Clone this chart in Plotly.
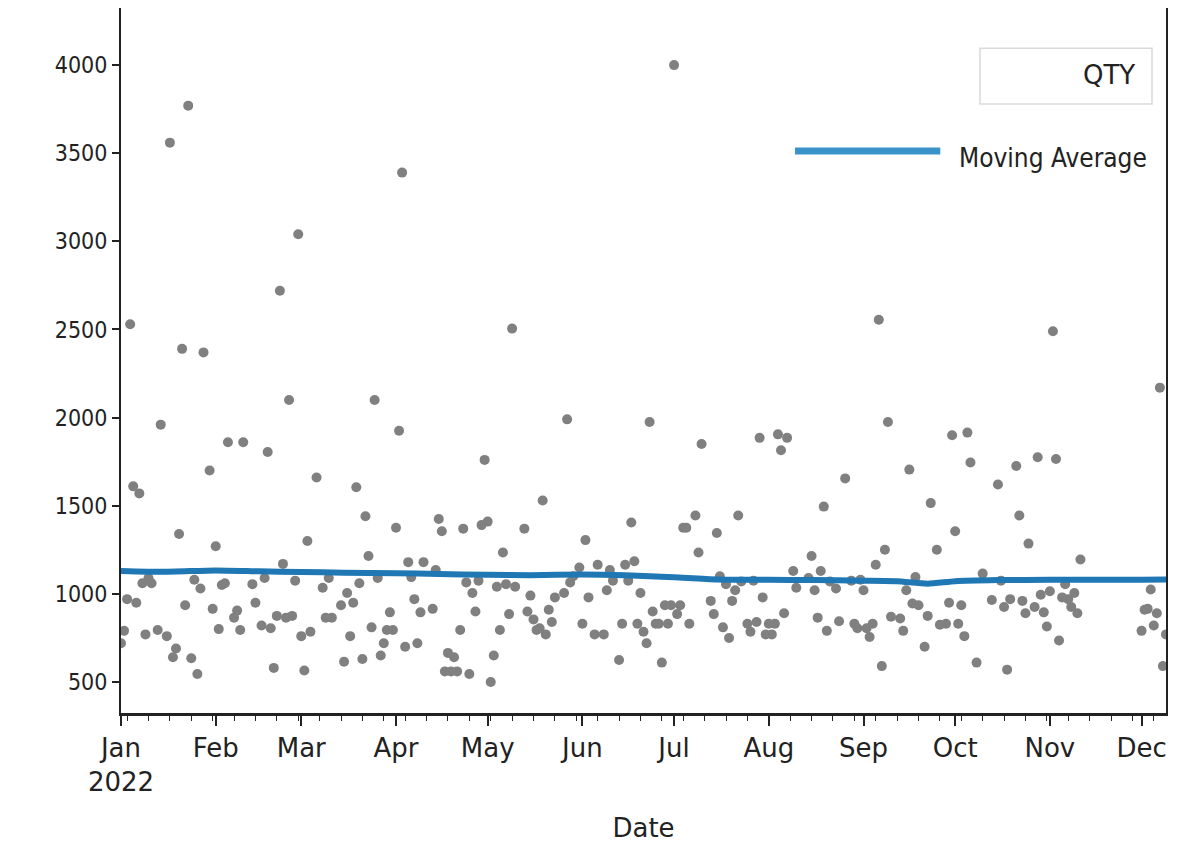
import plotly.graph_objects as go

# ---- data ----
dates = [
    "2022-01-01", "2022-01-02", "2022-01-03", "2022-01-04", "2022-01-05", "2022-01-06", "2022-01-07",
    "2022-01-08", "2022-01-09", "2022-01-10", "2022-01-11", "2022-01-13", "2022-01-14", "2022-01-16",
    "2022-01-17", "2022-01-18", "2022-01-19", "2022-01-20", "2022-01-21", "2022-01-22", "2022-01-23",
    "2022-01-24", "2022-01-25", "2022-01-26", "2022-01-27", "2022-01-28", "2022-01-30", "2022-01-31",
    "2022-02-01", "2022-02-02", "2022-02-03", "2022-02-04", "2022-02-05", "2022-02-07", "2022-02-08",
    "2022-02-09", "2022-02-10", "2022-02-13", "2022-02-14", "2022-02-16", "2022-02-17", "2022-02-18",
    "2022-02-19", "2022-02-20", "2022-02-21", "2022-02-22", "2022-02-23", "2022-02-24", "2022-02-25",
    "2022-02-26", "2022-02-27", "2022-02-28",
    "2022-03-01", "2022-03-02", "2022-03-03", "2022-03-04", "2022-03-06", "2022-03-08", "2022-03-09",
    "2022-03-10", "2022-03-11", "2022-03-14", "2022-03-15", "2022-03-16", "2022-03-17", "2022-03-18",
    "2022-03-19", "2022-03-20", "2022-03-21", "2022-03-22", "2022-03-23", "2022-03-24", "2022-03-25",
    "2022-03-26", "2022-03-27", "2022-03-28", "2022-03-29", "2022-03-30", "2022-03-31",
    "2022-04-01", "2022-04-02", "2022-04-03", "2022-04-04", "2022-04-05", "2022-04-06", "2022-04-07",
    "2022-04-08", "2022-04-09", "2022-04-10", "2022-04-13", "2022-04-14", "2022-04-15", "2022-04-16",
    "2022-04-17", "2022-04-18", "2022-04-19", "2022-04-20", "2022-04-21", "2022-04-22", "2022-04-23",
    "2022-04-24", "2022-04-25", "2022-04-26", "2022-04-27", "2022-04-28", "2022-04-29", "2022-04-30",
    "2022-05-01", "2022-05-02", "2022-05-03", "2022-05-04", "2022-05-05", "2022-05-06", "2022-05-07",
    "2022-05-08", "2022-05-09", "2022-05-10", "2022-05-13", "2022-05-14", "2022-05-15", "2022-05-16",
    "2022-05-17", "2022-05-18", "2022-05-19", "2022-05-20", "2022-05-21", "2022-05-22", "2022-05-23",
    "2022-05-26", "2022-05-27", "2022-05-28", "2022-05-29", "2022-05-31",
    "2022-06-01", "2022-06-02", "2022-06-03", "2022-06-05", "2022-06-06", "2022-06-08", "2022-06-09",
    "2022-06-10", "2022-06-11", "2022-06-13", "2022-06-14", "2022-06-15", "2022-06-16", "2022-06-17",
    "2022-06-18", "2022-06-19", "2022-06-20", "2022-06-21", "2022-06-22", "2022-06-23", "2022-06-24",
    "2022-06-25", "2022-06-26", "2022-06-27", "2022-06-28", "2022-06-29", "2022-06-30",
    "2022-07-01", "2022-07-02", "2022-07-03", "2022-07-04", "2022-07-05", "2022-07-06", "2022-07-08",
    "2022-07-09", "2022-07-10", "2022-07-13", "2022-07-14", "2022-07-15", "2022-07-16", "2022-07-17",
    "2022-07-18", "2022-07-19", "2022-07-20", "2022-07-21", "2022-07-22", "2022-07-23", "2022-07-25",
    "2022-07-26", "2022-07-27", "2022-07-28", "2022-07-29", "2022-07-30", "2022-07-31",
    "2022-08-01", "2022-08-02", "2022-08-03", "2022-08-04", "2022-08-05", "2022-08-06", "2022-08-07",
    "2022-08-09", "2022-08-10", "2022-08-14", "2022-08-15", "2022-08-16", "2022-08-17", "2022-08-18",
    "2022-08-19", "2022-08-20", "2022-08-21", "2022-08-23", "2022-08-24", "2022-08-26", "2022-08-28",
    "2022-08-29", "2022-08-30", "2022-08-31",
    "2022-09-01", "2022-09-02", "2022-09-03", "2022-09-04", "2022-09-05", "2022-09-06", "2022-09-07",
    "2022-09-08", "2022-09-09", "2022-09-10", "2022-09-13", "2022-09-14", "2022-09-15", "2022-09-16",
    "2022-09-17", "2022-09-18", "2022-09-19", "2022-09-21", "2022-09-22", "2022-09-23", "2022-09-25",
    "2022-09-26", "2022-09-28", "2022-09-29", "2022-09-30",
    "2022-10-01", "2022-10-02", "2022-10-03", "2022-10-04", "2022-10-05", "2022-10-06", "2022-10-08",
    "2022-10-10", "2022-10-13", "2022-10-15", "2022-10-16", "2022-10-17", "2022-10-18", "2022-10-19",
    "2022-10-21", "2022-10-22", "2022-10-23", "2022-10-24", "2022-10-25", "2022-10-27", "2022-10-28",
    "2022-10-29", "2022-10-30", "2022-10-31",
    "2022-11-01", "2022-11-02", "2022-11-03", "2022-11-04", "2022-11-05", "2022-11-06", "2022-11-07",
    "2022-11-08", "2022-11-09", "2022-11-10", "2022-11-11",
    "2022-12-01", "2022-12-02", "2022-12-03", "2022-12-04", "2022-12-05", "2022-12-06", "2022-12-07",
    "2022-12-08", "2022-12-09",
]

qty = [
    720, 790, 970, 2530, 1610, 950, 1570,
    1060, 770, 1090, 1060, 795, 1960, 760,
    3560, 640, 690, 1340, 2390, 935, 3770,
    635, 1080, 545, 1030, 2370, 1700, 915,
    1270, 800, 1050, 1060, 1860, 865, 905,
    795, 1860, 1055, 950, 820, 1090, 1805,
    805, 580, 875, 2720, 1170, 865, 2100,
    875, 1075, 3040,
    760, 565, 1300, 785, 1660, 1035, 865,
    1090, 865, 935, 615, 1005, 760, 950,
    1605, 1060, 630, 1440, 1215, 810, 2100,
    1090, 650, 720, 795, 895, 795,
    1375, 1925, 3390, 700, 1180, 1095, 970,
    720, 895, 1180, 915, 1135, 1425, 1355,
    560, 665, 560, 640, 560, 795, 1370,
    1065, 545, 1005, 900, 1075, 1390, 1760,
    1410, 500, 650, 1040, 795, 1235, 1055,
    885, 2505, 1040, 1370, 900, 990, 855,
    795, 805, 1530, 770, 910, 840, 980,
    1005, 1990, 1065, 1100, 1150,
    830, 1305, 980, 770, 1165, 770, 1020,
    1135, 1075, 625, 830, 1165, 1075, 1405,
    1185, 830, 1005, 785, 720, 1975, 900,
    830, 830, 610, 935, 830, 935,
    4000, 885, 935, 1375, 1375, 830, 1445,
    1235, 1850, 960, 885, 1345, 1100, 810,
    1055, 750, 960, 1020, 1445, 1070, 830,
    785, 1075, 840, 1885, 980, 770,
    830, 770, 830, 1905, 1815, 890, 1885,
    1130, 1035, 1090, 1215, 1020, 865, 1130,
    1495, 790, 1070, 1030, 845, 1655, 1075,
    830, 805, 1080,
    1020, 805, 755, 830, 1165, 2555, 590,
    1250, 1975, 870, 860, 790, 1020, 1705,
    945, 1095, 935, 700, 875, 1515, 1250,
    825, 830, 950, 1900,
    1355, 830, 935, 760, 1915, 1745, 610,
    1115, 965, 1620, 1075, 925, 570, 970,
    1725, 1445, 960, 890, 1285, 925, 1775,
    995, 895, 815,
    1015, 2490, 1765, 735, 980, 1055, 970,
    925, 1005, 890, 1195,
    790, 910, 915, 1025, 820, 890, 2170,
    590, 770,
]

ma_dates = [
    "2022-01-01", "2022-01-15", "2022-02-01", "2022-02-15", "2022-03-01", "2022-03-15",
    "2022-04-01", "2022-04-15", "2022-05-01", "2022-05-15", "2022-06-01", "2022-06-15",
    "2022-07-01", "2022-07-15", "2022-08-01", "2022-08-15", "2022-09-01", "2022-09-12",
    "2022-09-22", "2022-10-01", "2022-10-15", "2022-11-01", "2022-11-15", "2022-12-01",
    "2022-12-09",
]
ma_values = [
    1130, 1125, 1133, 1128, 1124, 1120,
    1117, 1113, 1108, 1106, 1110, 1106,
    1094, 1082, 1080, 1078, 1075, 1072,
    1058, 1072, 1078, 1080, 1080, 1080,
    1082,
]

month_ticks = ["2022-01-01", "2022-02-01", "2022-03-01", "2022-04-01", "2022-05-01", "2022-06-01",
               "2022-07-01", "2022-08-01", "2022-09-01", "2022-10-01", "2022-11-01", "2022-12-01"]
month_labels = ["Jan<br>2022", "Feb", "Mar", "Apr", "May", "Jun",
                "Jul", "Aug", "Sep", "Oct", "Nov", "Dec"]
y_ticks = [500, 1000, 1500, 2000, 2500, 3000, 3500, 4000]

FONT = "DejaVu Sans, Arial, sans-serif"
FONT_COND = "DejaVu Sans Condensed, DejaVu Sans, sans-serif"
INK = "#222222"

fig = go.Figure()
fig.add_trace(go.Scatter(
    x=dates, y=qty, mode="markers", name="QTY",
    marker=dict(color="#808080", size=10, line=dict(width=0)),
    showlegend=False,
))
fig.add_trace(go.Scatter(
    x=ma_dates, y=ma_values, mode="lines", name="Moving Average",
    line=dict(color="#1f77b4", width=6, shape="spline", smoothing=0.6),
    showlegend=False,
))

# legend drawn as decorations (paper coordinates)
fig.add_shape(type="rect", xref="paper", yref="paper", x0=0.822, x1=0.9866, y0=0.864, y1=0.943,
              line=dict(color="#d9d9d9", width=1.5), fillcolor="rgba(255,255,255,0.8)")
fig.add_annotation(xref="paper", yref="paper", x=0.972, y=0.905, text="QTY", showarrow=False,
                   xanchor="right", yanchor="middle", font=dict(family=FONT, size=26, color=INK))
fig.add_shape(type="line", xref="paper", yref="paper", x0=0.645, x1=0.784, y0=0.797, y1=0.797,
              line=dict(color="#3a93c8", width=7))
fig.add_annotation(xref="paper", yref="paper", x=0.800, y=0.787, text="Moving Average", showarrow=False,
                   xanchor="left", yanchor="middle",
                   font=dict(family=FONT_COND, size=26, color=INK))

fig.update_layout(
    width=1202, height=857,
    margin=dict(l=113, r=44, t=0, b=152),
    paper_bgcolor="white", plot_bgcolor="white",
    font=dict(family=FONT, size=24, color=INK),
)
fig.update_xaxes(
    type="date", range=["2022-01-01", "2022-12-09"],
    tickmode="array", tickvals=month_ticks, ticktext=month_labels,
    ticks="outside", ticklen=10, tickwidth=1.5, tickcolor=INK,
    showline=True, linecolor=INK, linewidth=2.5,
    showgrid=False, zeroline=False,
    minor=dict(ticks="outside", ticklen=5, tickwidth=1, tickcolor=INK,
               dtick=7 * 24 * 3600 * 1000, tick0="2022-01-03", showgrid=False),
    title=dict(text="Date", font=dict(family=FONT, size=26, color=INK), standoff=24),
    tickfont=dict(family=FONT, size=26, color=INK),
)
fig.update_yaxes(
    range=[324, 4324],
    tickmode="array", tickvals=y_ticks,
    ticks="outside", ticklen=7, tickwidth=1.5, tickcolor=INK,
    showline=True, linecolor=INK, linewidth=2, mirror=True,
    showgrid=False, zeroline=False,
    tickfont=dict(family=FONT_COND, size=23, color=INK),
)

fig.write_html("out.html")
